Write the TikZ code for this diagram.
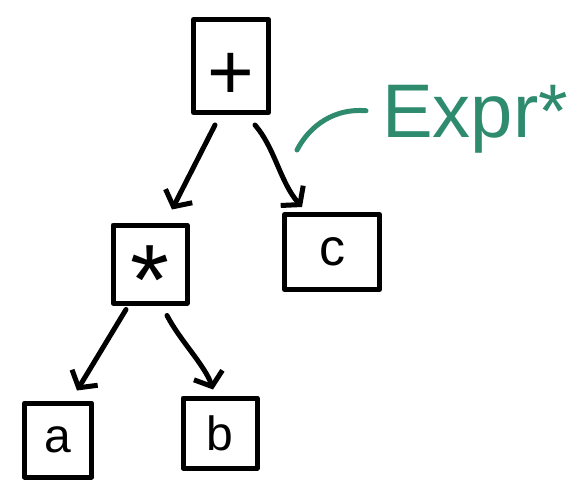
\documentclass[tikz,border=0pt]{standalone}
\usepackage{fontspec}
\setmainfont{Liberation Sans}
\usetikzlibrary{arrows.meta,calc}
\definecolor{exprgreen}{RGB}{46,139,110}
\begin{document}
\begin{tikzpicture}[x=1pt,y=-1pt,
  ink/.style={line width=5pt, line cap=round, line join=round},
  tbox/.style={ink, draw, rectangle, inner sep=0pt, font=\fontsize{48}{48}\selectfont},
  edge/.style={ink, -{Straight Barb[length=12pt,width=30pt]}},
]
\useasboundingbox (0,0) rectangle (579,501);
% boxes
\node[tbox, minimum width=75pt, minimum height=93pt, font=\fontsize{80}{80}\selectfont] (plus) at (231,66) {\smash{\raisebox{-0.42em}{+}}};
\node[tbox, minimum width=74pt, minimum height=78pt, font=\fontsize{100}{100}\selectfont] (star) at (150,264) {\smash{\raisebox{-0.5em}{*}}\hspace{0.1em}};
\node[tbox, minimum width=95pt, minimum height=75pt, font=\fontsize{52}{52}\selectfont] (c) at (332,252) {c};
\node[tbox, minimum width=67pt, minimum height=74pt] (a) at (58,440) {a};
\node[tbox, minimum width=74pt, minimum height=70pt] (b) at (220,433) {b};
% label
\node[text=exprgreen, inner sep=0pt, anchor=base west, font=\fontsize{76}{76}\selectfont] (expr) at (382,137) {Expr*};
% connectors
\draw[edge] ($(plus.south)+(-16,10)$) -- ($(star.north)+(22,-13)$);
\draw[edge] ($(plus.south)+(24,10)$) .. controls ($(plus.south)+(44,33)$) and ($(c.north)+(-52,-30)$) .. ($(c.north)+(-30,-5)$);
\draw[edge] ($(star.south)+(-24,4)$) -- ($(a.north)+(19,-10)$);
\draw[edge] ($(star.south)+(17,10)$) .. controls ($(star.south)+(30,35)$) and ($(b.north)+(-15,-30)$) .. ($(b.north)+(-7,-6)$);
\coordinate (cstart) at (297,150);
\draw[ink, exprgreen] (cstart) .. controls (310,125) and (335,108) .. ($(expr.west)+(-16,-8)$);
\end{tikzpicture}
\end{document}
